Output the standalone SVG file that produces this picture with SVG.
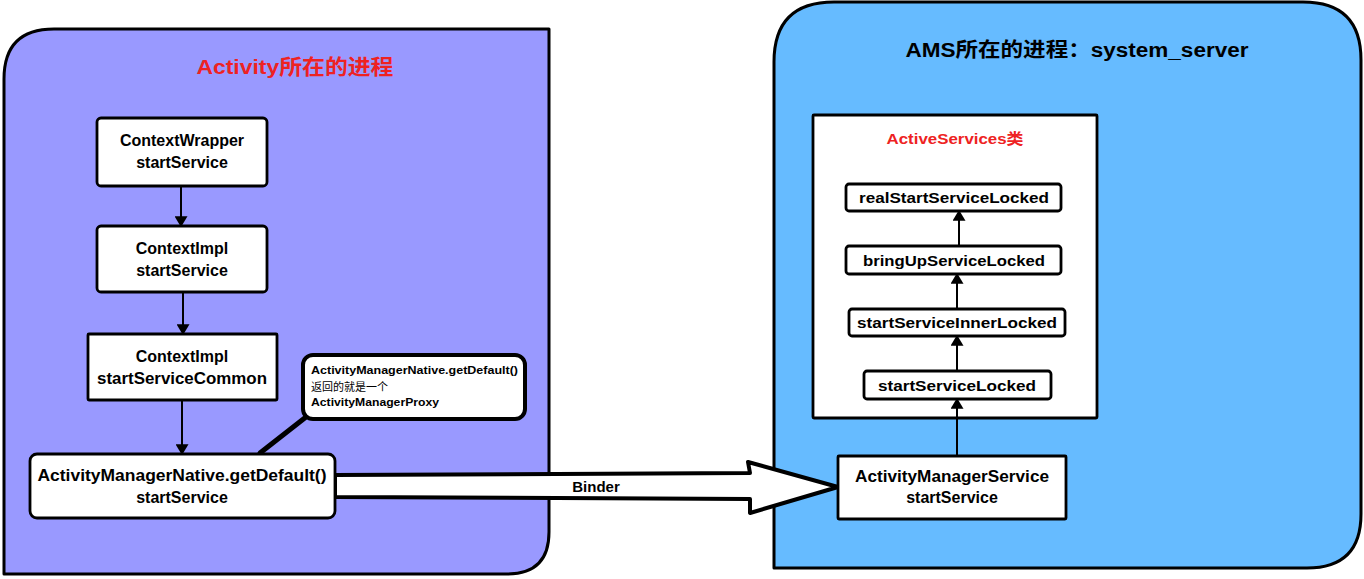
<svg xmlns="http://www.w3.org/2000/svg" width="1364" height="579" viewBox="0 0 1364 579">
<defs>
<marker id="ah" viewBox="0 0 10 12" refX="9" refY="6" markerWidth="11" markerHeight="13" markerUnits="userSpaceOnUse" orient="auto">
<path d="M0,0 L10,6 L0,12 Z" fill="#000"/>
</marker>
<style>
.panel{stroke:#000;stroke-width:3;stroke-linejoin:round}
.box{fill:#fff;stroke:#000;stroke-width:2.8;stroke-linejoin:round}
.t{font-family:"Liberation Sans",Arial,sans-serif;font-weight:bold;fill:#000;text-anchor:middle}
.n{font-size:16px}
.s{font-size:15px}
.c{font-family:"Liberation Sans","Noto Sans CJK SC",sans-serif;font-size:11px;font-weight:bold;fill:#000}
.conn{stroke:#000;stroke-width:2;fill:none}
</style>
</defs>
<rect width="1364" height="579" fill="#fff"/>
<g id="panel-activity">
<path class="panel" fill="#9999FF" d="M54,29 L549,29 L549,532 Q549,574 507,574 L4,574 L4,79 Q4,29 54,29 Z"/>
<text class="t" x="295" y="74" font-size="21" style="fill:#EE2222;font-family:'Liberation Sans','Noto Sans CJK SC',sans-serif" textLength="197" lengthAdjust="spacingAndGlyphs">Activity所在的进程</text>
</g>
<g id="panel-ams">
<path class="panel" fill="#66BBFF" d="M834,2 L1303,2 Q1361,2 1361,60 L1361,514 Q1361,568 1307,568 L774,568 L774,62 Q774,2 834,2 Z"/>
<text class="t" x="1077" y="57" font-size="20" style="font-family:'Liberation Sans','Noto Sans CJK SC',sans-serif" textLength="343" lengthAdjust="spacingAndGlyphs">AMS所在的进程：system_server</text>
</g>
<g id="activeservices">
<rect class="box" x="813" y="115" width="284" height="303" rx="1"/>
<text class="t" x="955" y="144" font-size="15" style="fill:#EE2222;font-family:'Liberation Sans','Noto Sans CJK SC',sans-serif" textLength="137" lengthAdjust="spacingAndGlyphs">ActiveServices类</text>
</g>
<g id="connectors">
<line class="conn" x1="181" y1="186" x2="181" y2="226" marker-end="url(#ah)"/>
<line class="conn" x1="183" y1="292" x2="183" y2="334" marker-end="url(#ah)"/>
<line class="conn" x1="182" y1="400" x2="182" y2="454" marker-end="url(#ah)"/>
<line class="conn" x1="957" y1="456" x2="957" y2="399" marker-end="url(#ah)"/>
<line class="conn" x1="957" y1="371" x2="957" y2="336" marker-end="url(#ah)"/>
<line class="conn" x1="957" y1="309" x2="957" y2="274" marker-end="url(#ah)"/>
<line class="conn" x1="959" y1="246" x2="959" y2="211" marker-end="url(#ah)"/>
<line x1="306" y1="417" x2="260" y2="453" stroke="#000" stroke-width="5" stroke-linecap="round"/>
<path d="M335,475 L750,473 L748,462 L838,487 L750,513 L750,499 L335,497 Z" fill="#fff" stroke="#000" stroke-width="4" stroke-linejoin="round"/>
<text class="t s" x="596" y="492" font-size="14">Binder</text>
</g>
<g id="n-contextwrapper">
<rect class="box" x="97" y="118" width="170" height="68" rx="4"/>
<text class="t n" x="182" y="146">ContextWrapper</text>
<text class="t n" x="182" y="168">startService</text>
</g>
<g id="n-contextimpl-start">
<rect class="box" x="97" y="226" width="170" height="66" rx="4"/>
<text class="t n" x="182" y="254">ContextImpl</text>
<text class="t n" x="182" y="276">startService</text>
</g>
<g id="n-contextimpl-common">
<rect class="box" x="88" y="334" width="189" height="66" rx="1"/>
<text class="t n" x="182" y="362">ContextImpl</text>
<text class="t n" x="182" y="384" textLength="170" lengthAdjust="spacingAndGlyphs">startServiceCommon</text>
</g>
<g id="n-amn">
<rect class="box" x="30" y="454" width="305" height="64" rx="7"/>
<text class="t n" x="182" y="481" textLength="289" lengthAdjust="spacingAndGlyphs">ActivityManagerNative.getDefault()</text>
<text class="t n" x="182" y="503">startService</text>
</g>
<g id="callout">
<rect x="303" y="355" width="222" height="64" rx="10" fill="#fff" stroke="#000" stroke-width="4"/>
<text class="c" x="311" y="374" textLength="207" lengthAdjust="spacingAndGlyphs">ActivityManagerNative.getDefault()</text>
<text class="c" x="311" y="391" style="font-weight:normal">返回的就是一个</text>
<text class="c" x="311" y="406" textLength="128" lengthAdjust="spacingAndGlyphs">ActivityManagerProxy</text>
</g>
<g id="n-realstart">
<rect class="box" x="846" y="184" width="215" height="27" rx="3"/>
<text class="t s" x="954" y="203" textLength="190" lengthAdjust="spacingAndGlyphs">realStartServiceLocked</text>
</g>
<g id="n-bringup">
<rect class="box" x="846" y="246" width="215" height="28" rx="3"/>
<text class="t s" x="954" y="266" textLength="182" lengthAdjust="spacingAndGlyphs">bringUpServiceLocked</text>
</g>
<g id="n-inner">
<rect class="box" x="849" y="309" width="216" height="27" rx="3"/>
<text class="t s" x="957" y="328" textLength="200" lengthAdjust="spacingAndGlyphs">startServiceInnerLocked</text>
</g>
<g id="n-startlocked">
<rect class="box" x="864" y="371" width="187" height="28" rx="3"/>
<text class="t s" x="957" y="391" textLength="158" lengthAdjust="spacingAndGlyphs">startServiceLocked</text>
</g>
<g id="n-ams">
<rect class="box" x="838" y="456" width="228" height="63" rx="1"/>
<text class="t n" x="952" y="482" textLength="194" lengthAdjust="spacingAndGlyphs">ActivityManagerService</text>
<text class="t n" x="952" y="503">startService</text>
</g>
</svg>
